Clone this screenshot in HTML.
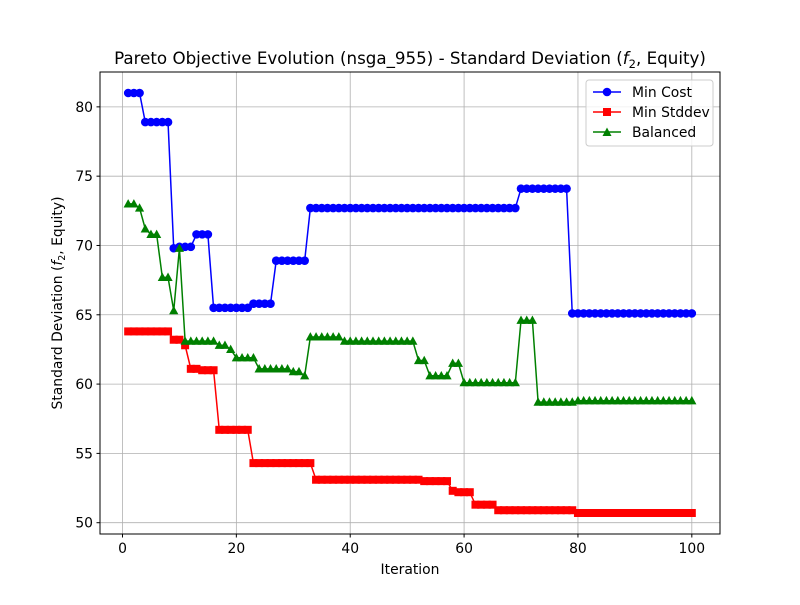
<!DOCTYPE html>
<html><head><meta charset="utf-8"><style>
body{margin:0;background:#fff}
svg text{font-family:"DejaVu Sans","Liberation Sans",sans-serif;fill:#000}
</style></head><body>
<svg id="chart" width="800" height="600" xmlns="http://www.w3.org/2000/svg">
<rect width="800" height="600" fill="#fff"/>
<g id="grid"></g>
<g id="series"></g>
<rect x="100" y="72" width="620" height="462" fill="none" stroke="#000" stroke-width="1"/>
<g id="ticks"></g>
<text x="410" y="64" font-size="16.7" text-anchor="middle">Pareto Objective Evolution (nsga_955) - Standard Deviation (<tspan font-style="italic">f</tspan><tspan font-size="11.5" dy="4">2</tspan><tspan dy="-4">, Equity)</tspan></text>
<text x="410" y="574" font-size="13.9" text-anchor="middle">Iteration</text>
<text transform="translate(62,303) rotate(-90)" font-size="13.9" text-anchor="middle">Standard Deviation (<tspan font-style="italic">f</tspan><tspan font-size="9.5" dy="3">2</tspan><tspan dy="-3">, Equity)</tspan></text>
<g>
<rect x="586" y="80" width="127" height="66" rx="3" fill="#fff" fill-opacity="0.8" stroke="#ccc"/>
<g><line x1="593" y1="92" x2="621" y2="92" stroke="blue" stroke-width="1.5"/><circle cx="607" cy="92" r="4.3" fill="blue"/><text x="632" y="97" font-size="13.9">Min Cost</text></g>
<g><line x1="593" y1="112" x2="621" y2="112" stroke="red" stroke-width="1.5"/><rect x="603" y="108" width="8" height="8" fill="red"/><text x="632" y="117" font-size="13.9">Min Stddev</text></g>
<g><line x1="593" y1="132" x2="621" y2="132" stroke="green" stroke-width="1.5"/><path d="M607,127.5 L611.5,136 L602.5,136 Z" fill="green"/><text x="632" y="137" font-size="13.9">Balanced</text></g>
</g>
</svg>
<script>
const minCost = [81,81,81,78.9,78.9,78.9,78.9,78.9,69.8,69.9,69.9,69.9,70.8,70.8,70.8,
65.5,65.5,65.5,65.5,65.5,65.5,65.5,65.8,65.8,65.8,65.8,68.9,68.9,68.9,68.9,68.9,68.9,
72.7,72.7,72.7,72.7,72.7,72.7,72.7,72.7,72.7,72.7,72.7,72.7,72.7,72.7,72.7,72.7,72.7,72.7,
72.7,72.7,72.7,72.7,72.7,72.7,72.7,72.7,72.7,72.7,72.7,72.7,72.7,72.7,72.7,72.7,72.7,72.7,72.7,
74.1,74.1,74.1,74.1,74.1,74.1,74.1,74.1,74.1,
65.1,65.1,65.1,65.1,65.1,65.1,65.1,65.1,65.1,65.1,65.1,65.1,65.1,65.1,65.1,65.1,65.1,65.1,65.1,65.1,65.1,65.1];
const minStddev = [63.8,63.8,63.8,63.8,63.8,63.8,63.8,63.8,63.2,63.2,62.8,61.1,61.1,61.0,61.0,61.0,
56.7,56.7,56.7,56.7,56.7,56.7,54.3,54.3,54.3,54.3,54.3,54.3,54.3,54.3,54.3,54.3,54.3,
53.1,53.1,53.1,53.1,53.1,53.1,53.1,53.1,53.1,53.1,53.1,53.1,53.1,53.1,53.1,53.1,53.1,53.1,53.1,
53.0,53.0,53.0,53.0,53.0,52.3,52.2,52.2,52.2,51.3,51.3,51.3,51.3,
50.9,50.9,50.9,50.9,50.9,50.9,50.9,50.9,50.9,50.9,50.9,50.9,50.9,50.9,
50.7,50.7,50.7,50.7,50.7,50.7,50.7,50.7,50.7,50.7,50.7,50.7,50.7,50.7,50.7,50.7,50.7,50.7,50.7,50.7,50.7];
const balanced = [73.0,73.0,72.7,71.2,70.8,70.8,67.7,67.7,65.3,69.8,63.1,63.1,63.1,63.1,63.1,63.1,62.8,62.8,62.5,
61.9,61.9,61.9,61.9,61.1,61.1,61.1,61.1,61.1,61.1,60.9,60.9,60.6,
63.4,63.4,63.4,63.4,63.4,63.4,63.1,63.1,63.1,63.1,63.1,63.1,63.1,63.1,63.1,63.1,63.1,63.1,63.1,
61.7,61.7,60.6,60.6,60.6,60.6,61.5,61.5,60.1,60.1,60.1,60.1,60.1,60.1,60.1,60.1,60.1,60.1,
64.6,64.6,64.6,58.7,58.7,58.7,58.7,58.7,58.7,58.7,
58.8,58.8,58.8,58.8,58.8,58.8,58.8,58.8,58.8,58.8,58.8,58.8,58.8,58.8,58.8,58.8,58.8,58.8,58.8,58.8,58.8];
const xTicks = [0,20,40,60,80,100];
const yTicks = [50,55,60,65,70,75,80];

const NS = 'http://www.w3.org/2000/svg';
const X0=100,X1=720,Y0=72,Y1=534, xmin=-3.95, xmax=104.95, ymin=49.185, ymax=82.515;
function sx(v){return X0+(v-xmin)/(xmax-xmin)*(X1-X0);}
function sy(v){return Y1-(v-ymin)/(ymax-ymin)*(Y1-Y0);}
function mk(tag,attrs,parent){const e=document.createElementNS(NS,tag);for(const k in attrs)e.setAttribute(k,attrs[k]);parent.appendChild(e);return e;}
const grid=document.getElementById('grid'), ticks=document.getElementById('ticks'), ser=document.getElementById('series');
xTicks.forEach(t=>{const x=sx(t);
 const g=mk('line',{x1:x,x2:x,y1:Y0,y2:Y1,stroke:'#b0b0b0','stroke-width':0.8},grid);
 
 
 const tk=mk('line',{x1:x,x2:x,y1:Y1,y2:Y1+3.5,stroke:'#000'},ticks);
 
 
 const tx=mk('text',{x:x,y:Y1+19,'font-size':13.9,'text-anchor':'middle'},ticks);tx.textContent=t;
 
 
});
yTicks.forEach(t=>{const y=sy(t);
 const g=mk('line',{x1:X0,x2:X1,y1:y,y2:y,stroke:'#b0b0b0','stroke-width':0.8},grid);
 
 
 const tk=mk('line',{x1:X0-3.5,x2:X0,y1:y,y2:y,stroke:'#000'},ticks);
 
 
 const tx=mk('text',{x:X0-7,y:y+5,'font-size':13.9,'text-anchor':'end'},ticks);tx.textContent=t;
 
 
});
function drawSeries(data,color,marker,name){
 const g=mk('g',{},ser);
 
 
 const pts=data.map((v,i)=>sx(i+1).toFixed(2)+','+sy(v).toFixed(2)).join(' ');
 const pl=mk('polyline',{points:pts,fill:'none',stroke:color,'stroke-width':1.5},g);
 
 
 data.forEach((v,i)=>{const x=sx(i+1),y=sy(v);let m;
  if(marker==='o')m=mk('circle',{cx:x,cy:y,r:4.3,fill:color},g);
  else if(marker==='s')m=mk('rect',{x:x-4,y:y-4,width:8,height:8,fill:color},g);
  else m=mk('path',{d:`M${x},${y-4.8} L${x+4.6},${y+3.6} L${x-4.6},${y+3.6} Z`,fill:color},g);
  
  
 });
}
drawSeries(minCost,'blue','o','min-cost-series');
drawSeries(minStddev,'red','s','min-stddev-series');
drawSeries(balanced,'green','^','balanced-series');
</script>
</body></html>
